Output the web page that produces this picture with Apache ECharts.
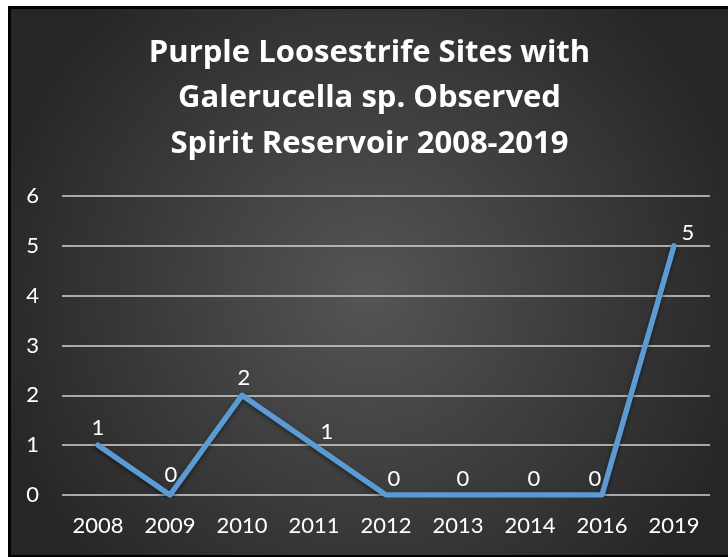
<!DOCTYPE html>
<html>
<head>
<meta charset="utf-8">
<script src="https://cdn.jsdelivr.net/npm/echarts@6/dist/echarts.min.js"></script>
<style>
  html, body { margin: 0; padding: 0; background: #fff; }
  #chart {
    position: absolute;
    left: 8px;
    top: 6px;
    width: 720px;
    height: 551px;
    box-sizing: border-box;
    border-left: 3px solid #000;
    border-top: 3px solid #000;
    border-bottom: 2px solid #000;
  }
</style>
</head>
<body>
<div id="chart"></div>
<script>
const titleLines = [
  'Purple Loosestrife Sites with',
  'Galerucella sp. Observed',
  'Spirit Reservoir 2008-2019'
]
const years = ['2008', '2009', '2010', '2011', '2012', '2013', '2014', '2016', '2019']
const sites = [1, 0, 2, 1, 0, 0, 0, 0, 5]
const yTicks = { min: 0, max: 6, interval: 1 }

// label nudges, px [dx, dy] from the default top spot
const labelNudge = [[0, 1], [1, -2], [2, 1], [13, 5], [8, 2], [5, 2], [4, 2], [-7, 2], [14, 5]]

const font = 'Lato, "Open Sans", sans-serif'
const chart = echarts.init(document.getElementById('chart'))

chart.setOption({
  backgroundColor: {
    type: 'radial',
    x: 0.5, y: 0.52, r: 0.72,
    colorStops: [
      { offset: 0, color: '#555555' },
      { offset: 1, color: '#262626' }
    ]
  },
  title: {
    text: titleLines.join('\n'),
    left: 'center',
    top: 16,
    textStyle: {
      color: '#ffffff',
      fontFamily: '"Open Sans", sans-serif',
      fontWeight: 'bold',
      fontSize: 31,
      lineHeight: 45.5
    }
  },
  grid: { left: 51, right: 18, top: 187, bottom: 60 },
  xAxis: {
    type: 'category',
    data: years,
    boundaryGap: true,
    axisLine: { show: false },
    axisTick: { show: false },
    axisLabel: { color: '#ffffff', fontFamily: font, fontSize: 22, margin: 20 }
  },
  yAxis: {
    type: 'value',
    min: yTicks.min,
    max: yTicks.max,
    interval: yTicks.interval,
    axisLine: { show: false },
    axisTick: { show: false },
    axisLabel: { color: '#ffffff', fontFamily: font, fontSize: 22, margin: 23 },
    splitLine: { lineStyle: { color: '#d4d4d4', width: 1.5 } }
  },
  series: [
    {
      type: 'line',
      data: sites.map((v, i) => ({
        value: v,
        label: { offset: labelNudge[i] }
      })),
      symbol: 'circle',
      symbolSize: 4,
      showSymbol: true,
      itemStyle: { color: '#5b9bd5' },
      lineStyle: {
        color: '#5b9bd5',
        width: 5.5,
        cap: 'round',
        join: 'round',
        shadowColor: 'rgba(0,0,0,0.5)',
        shadowBlur: 4,
        shadowOffsetY: 2
      },
      label: {
        show: true,
        position: 'top',
        distance: 5,
        color: '#ffffff',
        fontFamily: font,
        fontSize: 22
      },
      animation: false
    }
  ]
})
</script>
</body>
</html>
